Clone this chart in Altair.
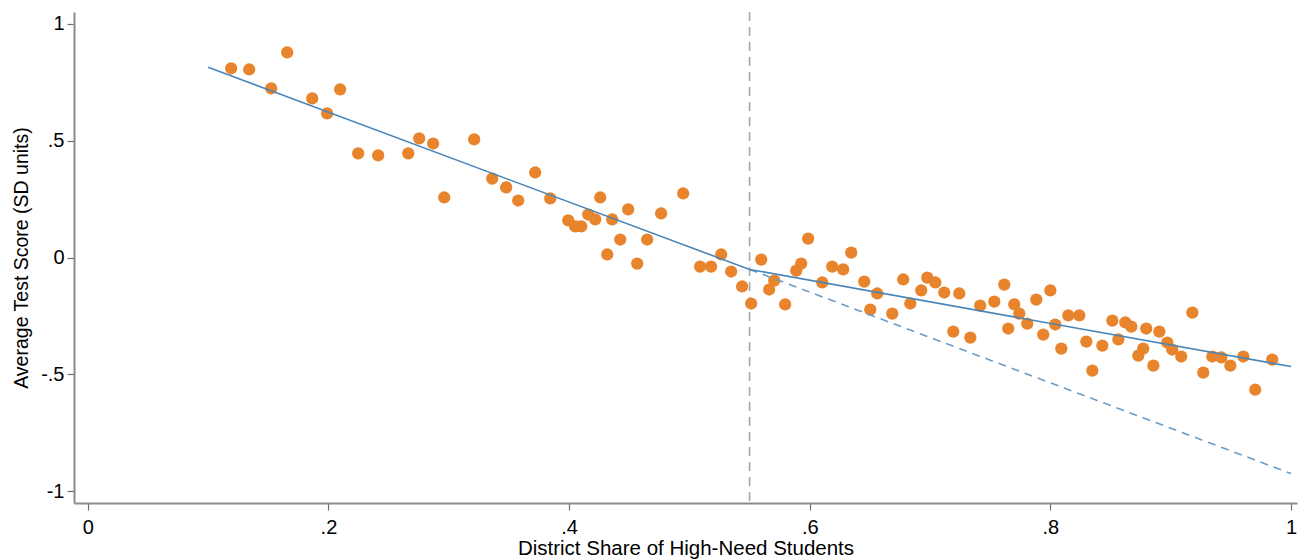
import altair as alt
import pandas as pd

# District share of high-need students (x) and average test score (y)
share = [0.1191, 0.1341, 0.1524, 0.1657, 0.1865, 0.1989, 0.2097, 0.2247, 0.2413, 0.2663,
         0.2754, 0.2870, 0.2962, 0.3211, 0.3361, 0.3477, 0.3577, 0.3718, 0.3843, 0.3993,
         0.4051, 0.4101, 0.4159, 0.4217, 0.4259, 0.4358, 0.4317, 0.4425, 0.4491, 0.4566,
         0.4649, 0.4765, 0.4948, 0.5089, 0.5180, 0.5264, 0.5347, 0.5438, 0.5513, 0.5597,
         0.5663, 0.5705, 0.5796, 0.5888, 0.5929, 0.5987, 0.6104, 0.6187, 0.6278, 0.6345,
         0.6453, 0.6561, 0.6503, 0.6686, 0.6777, 0.6836, 0.6927, 0.6977, 0.7044, 0.7118,
         0.7193, 0.7243, 0.7335, 0.7417, 0.7534, 0.7617, 0.7700, 0.7742, 0.7650, 0.7808,
         0.7883, 0.8000, 0.7941, 0.8041, 0.8091, 0.8149, 0.8241, 0.8299, 0.8349, 0.8432,
         0.8515, 0.8565, 0.8623, 0.8673, 0.8731, 0.8772, 0.8797, 0.8856, 0.8906, 0.8972,
         0.9013, 0.9088, 0.9180, 0.9271, 0.9346, 0.9421, 0.9496, 0.9604, 0.9703, 0.9844]
score = [0.810, 0.805, 0.724, 0.878, 0.681, 0.617, 0.720, 0.446, 0.437, 0.446,
         0.510, 0.488, 0.257, 0.506, 0.338, 0.300, 0.244, 0.364, 0.253, 0.159,
         0.133, 0.133, 0.184, 0.163, 0.257, 0.163, 0.013, 0.077, 0.206, -0.026,
         0.077, 0.189, 0.274, -0.039, -0.039, 0.013, -0.060, -0.124, -0.197, -0.009,
         -0.137, -0.099, -0.201, -0.056, -0.026, 0.081, -0.107, -0.039, -0.051, 0.021,
         -0.103, -0.154, -0.223, -0.240, -0.094, -0.197, -0.141, -0.086, -0.107, -0.150,
         -0.317, -0.154, -0.343, -0.206, -0.189, -0.116, -0.201, -0.240, -0.304, -0.283,
         -0.180, -0.141, -0.330, -0.287, -0.390, -0.248, -0.248, -0.360, -0.484, -0.377,
         -0.270, -0.351, -0.278, -0.296, -0.420, -0.390, -0.304, -0.463, -0.317, -0.364,
         -0.394, -0.424, -0.236, -0.493, -0.424, -0.428, -0.463, -0.424, -0.566, -0.437]

# Fitted piecewise line and extrapolated counterfactual
fit_x = [0.10, 0.55, 1.00]
fit_y = [0.814, -0.051, -0.467]
cf_x = [0.55, 1.00]
cf_y = [-0.051, -0.925]
cutoff = [0.55]

x_ticks = [0, 0.2, 0.4, 0.6, 0.8, 1]
y_ticks = [-1, -0.5, 0, 0.5, 1]

pts = pd.DataFrame({"x": share, "y": score})
fit = pd.DataFrame({"x": fit_x, "y": fit_y})
cf = pd.DataFrame({"x": cf_x, "y": cf_y})
cut = pd.DataFrame({"x": cutoff})

FONT = "Liberation Sans"
label_expr = "replace(toString(datum.value), '0.', '.')"

xscale = alt.Scale(domain=[-0.0115, 1.005], nice=False, zero=False)
yscale = alt.Scale(domain=[-1.051, 1.051], nice=False, zero=False)

xaxis = alt.Axis(values=x_ticks, labelExpr=label_expr, title="District Share of High-Need Students",
                 grid=False, domainColor="#8c8c8c", domainWidth=2, tickColor="#6e6e6e",
                 tickSize=7, tickWidth=1.2, labelFont=FONT, labelFontSize=20, labelColor="#000000",
                 labelPadding=7, titleFont=FONT, titleFontSize=20.5, titleFontWeight="normal",
                 titleColor="#000000", titlePadding=1)
yaxis = alt.Axis(values=y_ticks, labelExpr=label_expr, title="Average Test Score (SD units)",
                 grid=False, domainColor="#8c8c8c", domainWidth=2, tickColor="#6e6e6e",
                 tickSize=7, tickWidth=1.2, labelFont=FONT, labelFontSize=20, labelColor="#000000",
                 labelPadding=3, titleFont=FONT, titleFontSize=19.5, titleFontWeight="normal",
                 titleColor="#000000", titlePadding=9)

points = alt.Chart(pts).mark_circle(size=150, color="#e8842b", opacity=1).encode(
    x=alt.X("x:Q", scale=xscale, axis=xaxis),
    y=alt.Y("y:Q", scale=yscale, axis=yaxis),
)

rule = alt.Chart(cut).mark_rule(color="#a6a6a6", strokeWidth=1.6, strokeDash=[9, 6]).encode(
    x=alt.X("x:Q", scale=xscale)
)

fit_line = alt.Chart(fit).mark_line(color="#4a86b8", strokeWidth=1.6).encode(
    x=alt.X("x:Q", scale=xscale), y=alt.Y("y:Q", scale=yscale)
)

cf_line = alt.Chart(cf).mark_line(color="#6a9cc8", strokeWidth=1.6, strokeDash=[8, 6]).encode(
    x=alt.X("x:Q", scale=xscale), y=alt.Y("y:Q", scale=yscale)
)

chart = alt.layer(rule, points, cf_line, fit_line).properties(
    width=1223, height=491,
    autosize=alt.AutoSizeParams(type="none"),
    padding={"left": 74, "top": 12, "right": 10, "bottom": 57},
    background="#ffffff",
).configure_view(stroke=None)

chart.save("out.html", embed_options={"renderer": "svg", "actions": False})
